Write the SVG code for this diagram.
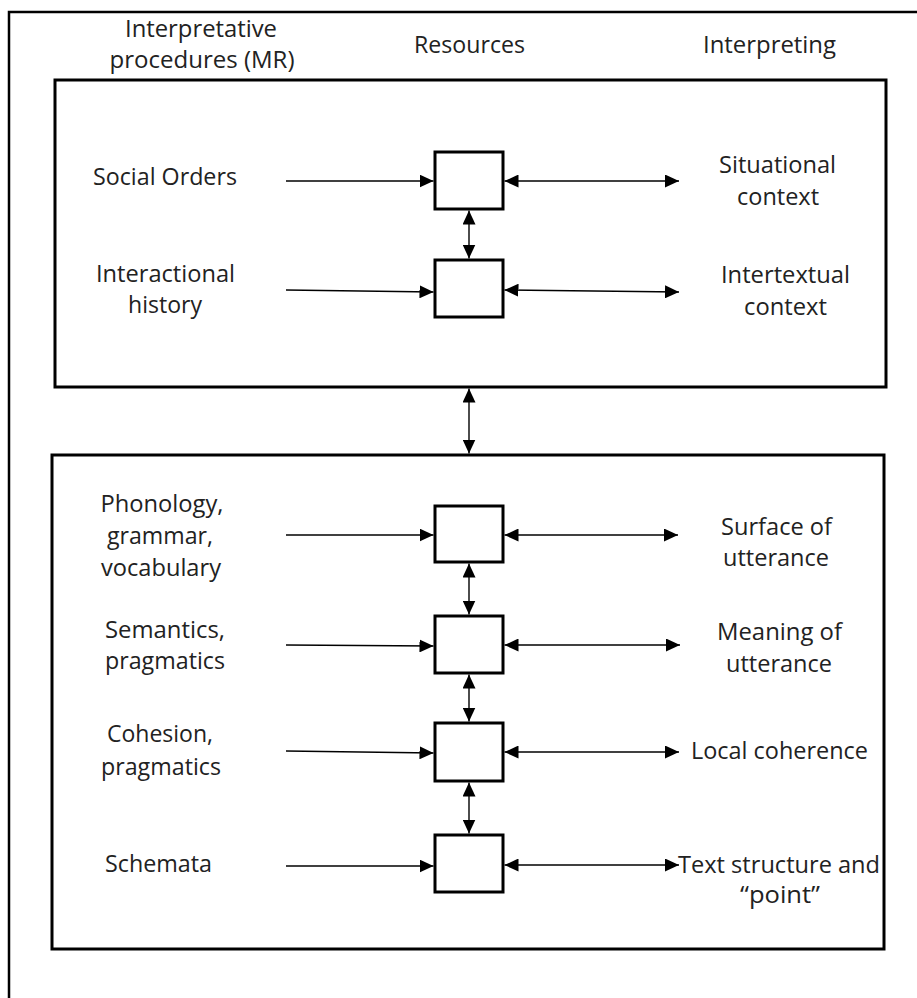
<svg xmlns="http://www.w3.org/2000/svg" width="917" height="998" viewBox="0 0 917 998">
<style>
text{font-family:"Open Sans","Noto Sans","Liberation Sans",sans-serif;font-size:23px;fill:#222;text-anchor:middle}
.frame{fill:none;stroke:#000;stroke-width:2.5}
.panel{fill:none;stroke:#000;stroke-width:3}
.node{fill:#fff;stroke:#000;stroke-width:3}
.c{fill:none;stroke:#000;stroke-width:1.4}
.one{marker-end:url(#ah)}
.two{marker-start:url(#ah);marker-end:url(#ah)}
</style>
<defs>
<marker id="ah" markerUnits="userSpaceOnUse" markerWidth="14" markerHeight="13" refX="14" refY="6.5" orient="auto-start-reverse">
<path d="M0,0 L14,6.5 L0,13 z" fill="#000"/>
</marker>
</defs>
<rect width="917" height="998" fill="#fff"/>
<path class="frame" d="M9,998 V12 H917"/>
<g id="headers">
<text x="201" y="37" textLength="152" lengthAdjust="spacingAndGlyphs">Interpretative</text>
<text x="202" y="68" textLength="185" lengthAdjust="spacingAndGlyphs">procedures (MR)</text>
<text x="469.5" y="53" textLength="111" lengthAdjust="spacingAndGlyphs">Resources</text>
<text x="769.5" y="53" textLength="133" lengthAdjust="spacingAndGlyphs">Interpreting</text>
</g>
<g id="panel-top"><rect class="panel" x="55" y="80" width="831" height="307"/></g>
<g id="panel-bottom"><rect class="panel" x="52" y="455" width="832" height="494"/></g>
<g id="connectors">
<line class="c one" x1="286" y1="181" x2="433.5" y2="181"/>
<line class="c two" x1="504.5" y1="181" x2="679" y2="181"/>
<line class="c one" x1="286" y1="290" x2="433.5" y2="292"/>
<line class="c two" x1="504.5" y1="290" x2="679" y2="292"/>
<line class="c two" x1="469" y1="210.5" x2="469" y2="258.5"/>
<line class="c two" x1="469" y1="388.5" x2="469" y2="453.5"/>
<line class="c one" x1="286" y1="535" x2="433.5" y2="535"/>
<line class="c two" x1="504.5" y1="535" x2="678" y2="535"/>
<line class="c two" x1="469" y1="563.5" x2="469" y2="614.5"/>
<line class="c one" x1="286" y1="645" x2="433.5" y2="646"/>
<line class="c two" x1="504.5" y1="645" x2="680" y2="645"/>
<line class="c two" x1="469" y1="674.5" x2="469" y2="721.5"/>
<line class="c one" x1="286" y1="751" x2="433.5" y2="753"/>
<line class="c two" x1="504.5" y1="752" x2="679" y2="752"/>
<line class="c two" x1="469" y1="782.5" x2="469" y2="833.5"/>
<line class="c one" x1="286" y1="866" x2="433.5" y2="866"/>
<line class="c two" x1="504.5" y1="865" x2="679" y2="865"/>
</g>
<g id="social-orders"><text x="165" y="185" textLength="144" lengthAdjust="spacingAndGlyphs">Social Orders</text></g>
<g id="res-1"><rect class="node" x="435" y="152" width="68" height="57"/></g>
<g id="situational"><text x="777.5" y="173" textLength="117" lengthAdjust="spacingAndGlyphs">Situational</text><text x="778" y="205" textLength="82" lengthAdjust="spacingAndGlyphs">context</text></g>
<g id="interactional"><text x="165.5" y="282" textLength="139" lengthAdjust="spacingAndGlyphs">Interactional</text><text x="165" y="313" textLength="74" lengthAdjust="spacingAndGlyphs">history</text></g>
<g id="res-2"><rect class="node" x="435" y="260" width="68" height="57"/></g>
<g id="intertextual"><text x="785.5" y="283" textLength="129" lengthAdjust="spacingAndGlyphs">Intertextual</text><text x="785.5" y="315" textLength="83" lengthAdjust="spacingAndGlyphs">context</text></g>
<g id="phonology"><text x="162" y="512" textLength="123" lengthAdjust="spacingAndGlyphs">Phonology,</text><text x="160" y="544" textLength="106" lengthAdjust="spacingAndGlyphs">grammar,</text><text x="161" y="576" textLength="120" lengthAdjust="spacingAndGlyphs">vocabulary</text></g>
<g id="res-3"><rect class="node" x="435" y="506" width="68" height="56"/></g>
<g id="surface"><text x="776.5" y="535" textLength="111" lengthAdjust="spacingAndGlyphs">Surface of</text><text x="776" y="566" textLength="106" lengthAdjust="spacingAndGlyphs">utterance</text></g>
<g id="semantics"><text x="165" y="638" textLength="120" lengthAdjust="spacingAndGlyphs">Semantics,</text><text x="165" y="669" textLength="120" lengthAdjust="spacingAndGlyphs">pragmatics</text></g>
<g id="res-4"><rect class="node" x="435" y="616" width="68" height="57"/></g>
<g id="meaning"><text x="779.5" y="640" textLength="125" lengthAdjust="spacingAndGlyphs">Meaning of</text><text x="779" y="672" textLength="106" lengthAdjust="spacingAndGlyphs">utterance</text></g>
<g id="cohesion"><text x="160" y="742" textLength="106" lengthAdjust="spacingAndGlyphs">Cohesion,</text><text x="161" y="775" textLength="120" lengthAdjust="spacingAndGlyphs">pragmatics</text></g>
<g id="res-5"><rect class="node" x="435" y="723" width="68" height="58"/></g>
<g id="local"><text x="779.5" y="759" textLength="177" lengthAdjust="spacingAndGlyphs">Local coherence</text></g>
<g id="schemata"><text x="158.5" y="872" textLength="107" lengthAdjust="spacingAndGlyphs">Schemata</text></g>
<g id="res-6"><rect class="node" x="435" y="835" width="68" height="57"/></g>
<g id="text-structure"><text x="779" y="873" textLength="202" lengthAdjust="spacingAndGlyphs">Text structure and</text><text x="780" y="903" textLength="80" lengthAdjust="spacingAndGlyphs">“point”</text></g>
</svg>
